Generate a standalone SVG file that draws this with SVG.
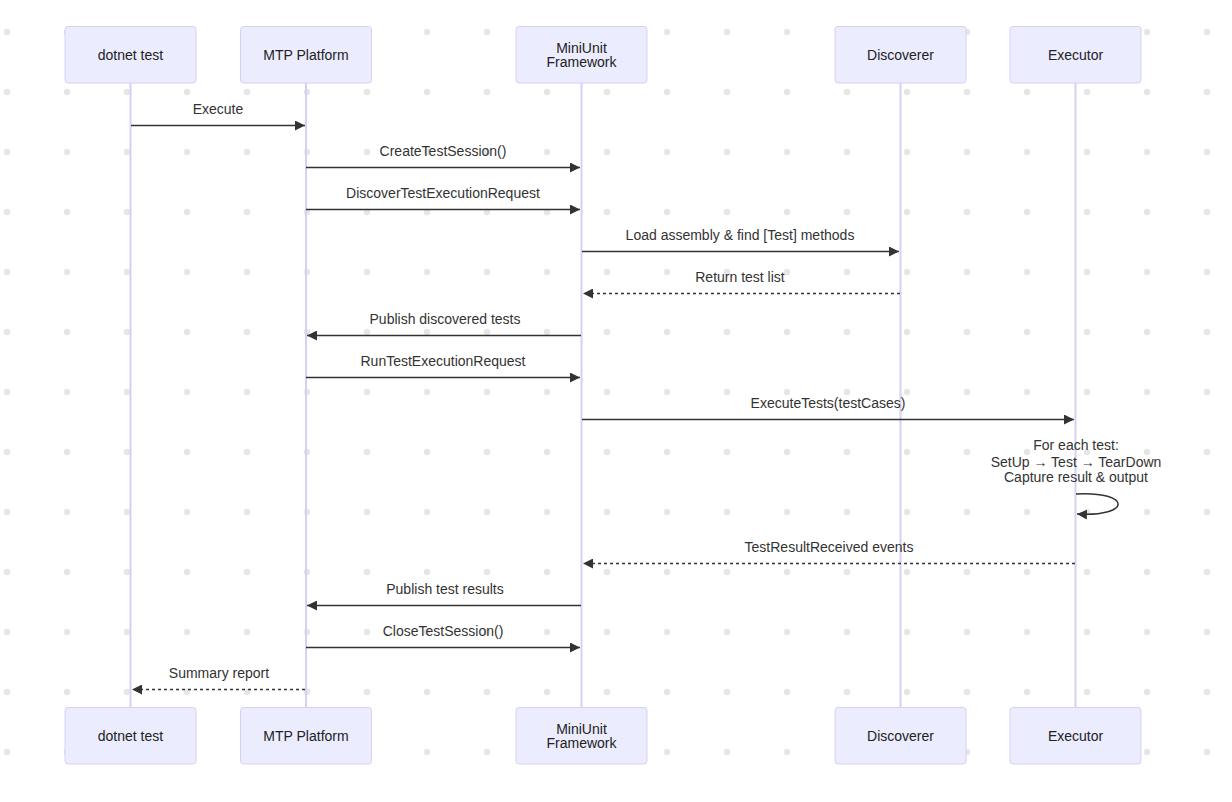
<svg xmlns="http://www.w3.org/2000/svg" width="1232" height="802" viewBox="0 0 1232 802">
<defs>
<pattern id="dots" x="0" y="0" width="60" height="60" patternUnits="userSpaceOnUse">
<circle cx="7" cy="32" r="3.2" fill="#e6e6e6"/>
</pattern>
<marker id="arr" viewBox="0 0 10 10" refX="10" refY="5" markerWidth="10" markerHeight="10" markerUnits="userSpaceOnUse" orient="auto">
<path d="M0,0 L10,5 L0,10 z" fill="#333"/>
</marker>
<style>
.box{fill:#ECECFF;stroke:#d6d0f5;stroke-width:1}
.life{stroke:#d6d0f5;stroke-width:2;fill:none}
.lbl{font-family:"Liberation Sans",Arial,sans-serif;font-size:14px;fill:#222;text-anchor:middle}
.msg{font-family:"Liberation Sans",Arial,sans-serif;font-size:14px;fill:#333;text-anchor:middle}
.solid{stroke:#333;stroke-width:1.5;fill:none;marker-end:url(#arr)}
.dash{stroke:#333;stroke-width:1.5;fill:none;stroke-dasharray:3,3;marker-end:url(#arr)}
</style>
</defs>
<rect width="1232" height="802" fill="#ffffff"/>
<rect width="1232" height="802" fill="url(#dots)"/>
<g id="lifelines">
<line class="life" x1="130.5" y1="83" x2="130.5" y2="707"/>
<line class="life" x1="306" y1="83" x2="306" y2="707"/>
<line class="life" x1="581.5" y1="83" x2="581.5" y2="707"/>
<line class="life" x1="900.5" y1="83" x2="900.5" y2="707"/>
<line class="life" x1="1075.5" y1="83" x2="1075.5" y2="707"/>
</g>
<g id="actor-dotnet-top"><rect class="box" x="65" y="26.5" width="131" height="56.5" rx="3"/><text class="lbl" x="130.5" y="60">dotnet test</text></g>
<g id="actor-mtp-top"><rect class="box" x="240.5" y="26.5" width="131" height="56.5" rx="3"/><text class="lbl" x="306" y="60">MTP Platform</text></g>
<g id="actor-miniunit-top"><rect class="box" x="516" y="26.5" width="131" height="56.5" rx="3"/><text class="lbl" x="581.5" y="53">MiniUnit</text><text class="lbl" x="581.5" y="67">Framework</text></g>
<g id="actor-discoverer-top"><rect class="box" x="835" y="26.5" width="131" height="56.5" rx="3"/><text class="lbl" x="900.5" y="60">Discoverer</text></g>
<g id="actor-executor-top"><rect class="box" x="1010" y="26.5" width="131" height="56.5" rx="3"/><text class="lbl" x="1075.5" y="60">Executor</text></g>
<g id="actor-dotnet-bottom"><rect class="box" x="65" y="707.5" width="131" height="56.5" rx="3"/><text class="lbl" x="130.5" y="741">dotnet test</text></g>
<g id="actor-mtp-bottom"><rect class="box" x="240.5" y="707.5" width="131" height="56.5" rx="3"/><text class="lbl" x="306" y="741">MTP Platform</text></g>
<g id="actor-miniunit-bottom"><rect class="box" x="516" y="707.5" width="131" height="56.5" rx="3"/><text class="lbl" x="581.5" y="734">MiniUnit</text><text class="lbl" x="581.5" y="748">Framework</text></g>
<g id="actor-discoverer-bottom"><rect class="box" x="835" y="707.5" width="131" height="56.5" rx="3"/><text class="lbl" x="900.5" y="741">Discoverer</text></g>
<g id="actor-executor-bottom"><rect class="box" x="1010" y="707.5" width="131" height="56.5" rx="3"/><text class="lbl" x="1075.5" y="741">Executor</text></g>
<g id="messages">
<text class="msg" x="218" y="114">Execute</text>
<line class="solid" x1="131" y1="125.5" x2="305" y2="125.5"/>
<text class="msg" x="443" y="156">CreateTestSession()</text>
<line class="solid" x1="306" y1="167.5" x2="580" y2="167.5"/>
<text class="msg" x="443" y="198">DiscoverTestExecutionRequest</text>
<line class="solid" x1="306" y1="209.5" x2="580" y2="209.5"/>
<text class="msg" x="740" y="240">Load assembly &amp; find [Test] methods</text>
<line class="solid" x1="582" y1="251.5" x2="899" y2="251.5"/>
<text class="msg" x="740" y="282">Return test list</text>
<line class="dash" x1="900" y1="293.5" x2="583" y2="293.5"/>
<text class="msg" x="445" y="324">Publish discovered tests</text>
<line class="solid" x1="581" y1="335.5" x2="307" y2="335.5"/>
<text class="msg" x="443" y="366">RunTestExecutionRequest</text>
<line class="solid" x1="306" y1="377.5" x2="580" y2="377.5"/>
<text class="msg" x="828" y="408">ExecuteTests(testCases)</text>
<line class="solid" x1="582" y1="419.5" x2="1074" y2="419.5"/>
<text class="msg" x="1076" y="450">For each test:</text>
<text class="msg" x="1076" y="467">SetUp → Test → TearDown</text>
<text class="msg" x="1076" y="482">Capture result &amp; output</text>
<path class="solid" d="M1076,494 C1132,491 1132,517 1077,514"/>
<text class="msg" x="829" y="552">TestResultReceived events</text>
<line class="dash" x1="1075" y1="563.5" x2="583" y2="563.5"/>
<text class="msg" x="445" y="594">Publish test results</text>
<line class="solid" x1="581" y1="605.5" x2="307" y2="605.5"/>
<text class="msg" x="443" y="636">CloseTestSession()</text>
<line class="solid" x1="306" y1="647.5" x2="580" y2="647.5"/>
<text class="msg" x="219" y="678">Summary report</text>
<line class="dash" x1="305" y1="689.5" x2="132" y2="689.5"/>
</g>
</svg>
